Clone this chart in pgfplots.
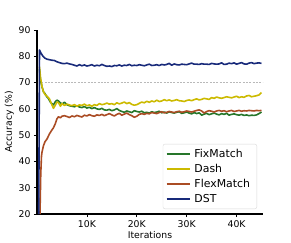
\documentclass[border=0pt]{standalone}
\usepackage{fontspec}
\setmainfont{DejaVu Sans}
\usepackage{pgfplots}
\pgfplotsset{compat=1.18}
\definecolor{cFix}{RGB}{38,118,42}
\definecolor{cDash}{RGB}{204,186,0}
\definecolor{cFlex}{RGB}{170,76,36}
\definecolor{cDST}{RGB}{24,42,122}
\begin{document}
\begin{tikzpicture}
\begin{axis}[
  scale only axis, width=226pt, height=184pt,
  xmin=0, xmax=45.3, ymin=20, ymax=90,
  axis lines=left,
  axis line style={line width=1.5pt,-},
  tick align=outside,
  major tick length=3pt,
  tick style={black, line width=0.6pt},
  xtick={10,20,30,40}, xticklabels={10K,20K,30K,40K},
  ytick={20,30,40,50,60,70,80,90},
  /pgf/number format/assume math mode=true,
  ticklabel style={font=\fontsize{9.3}{11}\selectfont},
  label style={font=\fontsize{9.3}{11}\selectfont},
  xlabel={Iterations}, ylabel={Accuracy (\%)},
  xlabel style={yshift=3pt},
  ylabel style={yshift=-2pt},
  legend cell align=left,
  legend style={at={(rel axis cs:1,0)}, anchor=south east, xshift=-6pt, yshift=5pt,
    draw=black!15, rounded corners=2pt, font=\fontsize{10.9}{12}\selectfont,
    inner sep=2.8pt, row sep=1.4pt,
    nodes={inner xsep=4pt}},
  legend image code/.code={\draw[#1] (0pt,0pt) -- (23pt,0pt);},
  every axis plot/.append style={line width=1.6pt, line join=round},
]
\addlegendimage{cFix, line width=1.7pt}
\addlegendentry{FixMatch}
\addlegendimage{cDash, line width=1.7pt}
\addlegendentry{Dash}
\addlegendimage{cFlex, line width=1.7pt}
\addlegendentry{FlexMatch}
\addlegendimage{cDST, line width=1.7pt}
\addlegendentry{DST}
\addplot[forget plot, gray!55, line width=0.7pt, dash pattern=on 2pt off 1.3pt] coordinates {(0.9,70) (45.3,70)};
\addplot[forget plot, cFix] coordinates {
(0.5,75) (0.7,71) (1.0,68.4) (1.3,66.5) (1.6,65.8) (2.0,64.5) (2.3,63.9) (2.7,62.5) (3.0,62.0) (3.3,61.5)
(3.7,62.8) (4.0,63.3) (4.3,63.0) (4.7,62.3) (5.0,61.8) (5.5,62.5) (6.0,61.6) (6.5,61.2) (7.0,61.0) (7.5,60.8)
(8.0,61.2) (8.5,60.7) (9.0,60.5) (9.5,60.9) (10.0,60.3) (10.5,60.6) (11.0,60.1) (11.5,60.5) (12.0,60.0) (12.5,59.8)
(13.0,60.2) (13.5,59.6) (14.0,59.5) (14.5,59.8) (15.0,59.3) (15.5,59.6) (16.0,60.1) (16.5,59.4) (17.0,59.0) (17.5,58.7)
(18.0,59.2) (18.5,58.9) (19.0,58.6) (19.5,59.3) (20.0,59.0) (20.5,58.8) (21.0,59.1) (21.5,58.5) (22.0,58.7) (22.5,58.4)
(23.0,58.9) (23.5,58.6) (24.0,58.8) (24.5,59.1) (25.0,58.5) (25.5,58.8) (26.0,58.4) (26.5,58.9) (27.0,58.6) (27.5,58.4)
(28.0,58.7) (28.5,58.9) (29.0,58.3) (29.5,58.5) (30.0,58.8) (30.5,58.4) (31.0,58.1) (31.5,58.6) (32.0,58.2) (32.5,58.5)
(33.0,57.6) (33.5,58.0) (34.0,58.3) (34.5,57.8) (35.0,58.1) (35.5,58.4) (36.0,58.0) (36.5,57.7) (37.0,58.2) (37.5,57.9)
(38.0,58.3) (38.5,57.6) (39.0,57.9) (39.5,58.1) (40.0,57.8) (40.5,57.6) (41.0,57.9) (41.5,57.5) (42.0,57.7) (42.5,57.4)
(43.0,57.6) (43.5,57.5) (44.0,57.7) (44.5,58.2) (45.0,58.8)
};
\addplot[forget plot, cDash] coordinates {
(0.5,76) (0.7,72) (1.0,68.5) (1.3,66.5) (1.6,65.5) (2.0,64.8) (2.5,63.8) (3.0,61.5) (3.3,60.2) (3.7,61.5)
(4.0,62.6) (4.3,62.4) (4.7,61.0) (5.0,62.0) (5.5,61.3) (6.0,61.8) (6.5,61.5) (7.0,61.2) (7.5,61.6) (8.0,61.0)
(8.5,61.5) (9.0,61.3) (9.5,61.8) (10.0,61.2) (10.5,61.5) (11.0,61.0) (11.5,61.6) (12.0,61.3) (12.5,62.0) (13.0,61.6)
(13.5,61.8) (14.0,62.2) (14.5,61.8) (15.0,62.0) (15.5,61.6) (16.0,62.3) (16.5,61.9) (17.0,62.2) (17.5,62.6) (18.0,62.0)
(18.5,62.4) (19.0,61.7) (19.5,61.4) (20.0,61.6) (20.5,62.1) (21.0,62.6) (21.5,62.3) (22.0,62.9) (22.5,62.5) (23.0,63.0)
(23.5,62.7) (24.0,63.3) (24.5,62.8) (25.0,63.0) (25.5,63.5) (26.0,63.1) (26.5,63.4) (27.0,63.0) (27.5,63.2) (28.0,63.5)
(28.5,63.1) (29.0,63.0) (29.5,62.8) (30.0,63.2) (30.5,63.4) (31.0,63.1) (31.5,63.5) (32.0,63.8) (32.5,63.4) (33.0,63.6)
(33.5,64.0) (34.0,63.8) (34.5,63.6) (35.0,64.3) (35.5,64.0) (36.0,64.5) (36.5,64.2) (37.0,64.0) (37.5,64.3) (38.0,64.6)
(38.5,64.4) (39.0,64.2) (39.5,64.5) (40.0,64.8) (40.5,64.3) (41.0,64.6) (41.5,64.4) (42.0,64.9) (42.5,65.1) (43.0,64.6)
(43.5,64.8) (44.0,65.0) (44.5,65.3) (45.0,66.2)
};
\addplot[forget plot, cFlex] coordinates {
(0.6,20) (0.75,35) (0.9,42) (1.0,43.5) (1.3,46) (1.6,47.5) (2.0,48.5) (2.5,50.5) (3.0,52.0) (3.3,52.8)
(3.7,54.5) (4.0,56.2) (4.3,57.0) (4.7,56.6) (5.0,57.2) (5.5,57.4) (6.0,57.1) (6.5,56.7) (7.0,57.3) (7.5,57.0)
(8.0,57.5) (8.5,57.2) (9.0,56.9) (9.5,57.6) (10.0,57.3) (10.5,57.8) (11.0,57.4) (11.5,57.2) (12.0,57.7) (12.5,57.5)
(13.0,57.9) (13.5,57.4) (14.0,57.8) (14.5,58.2) (15.0,57.7) (15.5,57.3) (16.0,57.9) (16.5,58.3) (17.0,57.6) (17.5,58.0)
(18.0,58.4) (18.5,57.8) (19.0,57.4) (19.5,56.8) (20.0,57.2) (20.5,57.9) (21.0,58.2) (21.5,57.9) (22.0,58.3) (22.5,58.1)
(23.0,58.6) (23.5,58.4) (24.0,58.2) (24.5,58.6) (25.0,58.9) (25.5,58.5) (26.0,58.7) (26.5,59.0) (27.0,58.8) (27.5,58.6)
(28.0,58.9) (28.5,59.1) (29.0,58.7) (29.5,58.9) (30.0,59.2) (30.5,59.0) (31.0,58.8) (31.5,59.1) (32.0,59.4) (32.5,59.6)
(33.0,59.2) (33.5,58.4) (34.0,59.0) (34.5,59.3) (35.0,59.1) (35.5,58.8) (36.0,59.2) (36.5,59.4) (37.0,59.1) (37.5,59.3)
(38.0,58.9) (38.5,59.2) (39.0,59.4) (39.5,59.0) (40.0,59.2) (40.5,59.4) (41.0,59.1) (41.5,59.3) (42.0,59.2) (42.5,59.4)
(43.0,59.3) (43.5,59.2) (44.0,59.4) (44.5,59.3) (45.0,59.4)
};
\addplot[forget plot, cDST] coordinates {
(0.35,20) (0.5,82.4) (0.8,81.2) (1.2,80.0) (1.6,79.3) (2.0,78.9) (2.5,78.7) (3.0,78.5) (3.5,78.4) (4.0,77.9)
(4.5,77.6) (5.0,77.3) (5.5,77.2) (6.0,77.4) (6.5,77.1) (7.0,76.9) (7.5,76.6) (8.0,76.3) (8.5,76.8) (9.0,76.4)
(9.5,76.7) (10.0,76.3) (10.5,76.5) (11.0,76.8) (11.5,76.3) (12.0,76.6) (12.5,76.4) (13.0,76.9) (13.5,76.5) (14.0,76.2)
(14.5,76.3) (15.0,76.1) (15.5,76.5) (16.0,76.4) (16.5,76.7) (17.0,76.3) (17.5,76.6) (18.0,76.5) (18.5,76.9) (19.0,76.4)
(19.5,76.6) (20.0,76.5) (20.5,76.8) (21.0,76.6) (21.5,76.4) (22.0,76.7) (22.5,77.0) (23.0,76.5) (23.5,76.6) (24.0,76.8)
(24.5,76.5) (25.0,76.9) (25.5,76.7) (26.0,76.9) (26.5,77.3) (27.0,76.6) (27.5,77.1) (28.0,76.8) (28.5,76.7) (29.0,77.0)
(29.5,76.9) (30.0,76.8) (30.5,77.1) (31.0,77.4) (31.5,77.0) (32.0,77.0) (32.5,76.9) (33.0,77.2) (33.5,77.0) (34.0,77.0)
(34.5,76.9) (35.0,77.3) (35.5,77.1) (36.0,77.0) (36.5,77.1) (37.0,77.5) (37.5,76.9) (38.0,77.0) (38.5,77.4) (39.0,77.2)
(39.5,77.5) (40.0,77.0) (40.5,77.3) (41.0,77.6) (41.5,77.1) (42.0,77.0) (42.5,77.4) (43.0,77.6) (43.5,77.2) (44.0,77.4)
(44.5,77.5) (45.0,77.3)
};
\end{axis}
\path (current axis.south west) ++(-37pt,-28pt) rectangle ++(291pt,242pt);
\end{tikzpicture}
\end{document}
